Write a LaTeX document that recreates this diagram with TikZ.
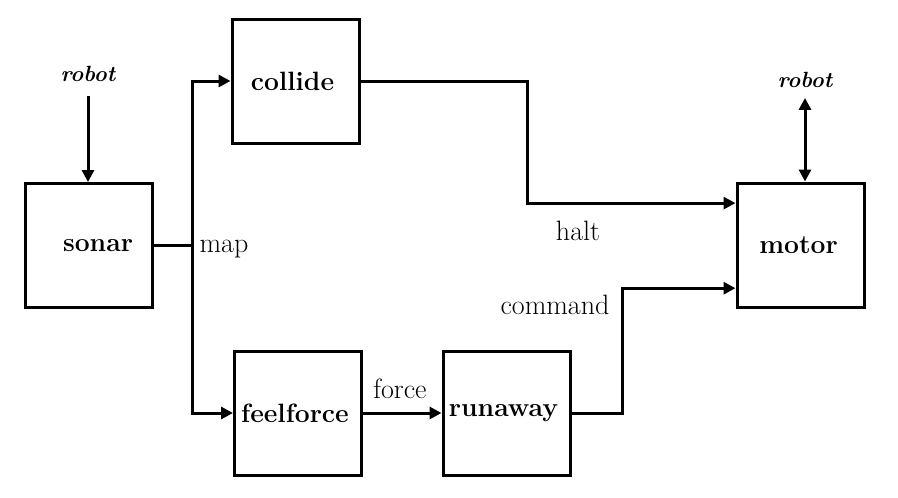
\documentclass[tikz,border=0pt]{standalone}
\usetikzlibrary{arrows.meta,calc}
\begin{document}
\begin{tikzpicture}[x=1pt,y=-1pt,
  box/.style={draw,line width=3pt,minimum width=127pt,minimum height=124pt,inner sep=0pt,
    font=\fontsize{26.5}{30}\selectfont\bfseries},
  lbl/.style={font=\fontsize{28}{32}\selectfont,inner sep=0pt},
  rob/.style={font=\fontsize{22}{26}\selectfont\bfseries\itshape,inner sep=0pt},
  wire/.style={line width=3pt},
  arr/.style={wire,-{Triangle[length=12pt,width=12pt]}},
  darr/.style={wire,{Triangle[length=12pt,width=12pt]}-{Triangle[length=12pt,width=12pt]}}]
\useasboundingbox (0,0) rectangle (898,498);
% boxes
\node[box] (sonar) at (89,245.5) {\hspace*{18pt}sonar};
\node[box] (collide) at (295.5,81) {\hspace*{-6pt}collide};
\node[box] (feelforce) at (298,413) {\hspace*{-6pt}feelforce};
\node[box] (runaway) at (506.5,413) {\hspace*{-6pt}runaway};
\node[box] (motor) at (800.5,245) {\hspace*{-4pt}motor};
% robot labels
\node[rob] (robotL) at (88,74) {robot};
\node[rob] (robotR) at (805,80) {robot};
% edge labels
\node[lbl] (map) at (224,249) {map};
\node[lbl] (halt) at (578,231) {halt};
\node[lbl] (force) at (400,389) {force};
\node[lbl] (command) at (555,305) {command};
% helper coordinates
\coordinate (J) at (192,245.5);
\coordinate (bendA) at (527,0);
\coordinate (bendB) at (622,0);
\coordinate (haltin) at ($(motor.north west)!0.17!(motor.south west)$);
\coordinate (cmdin) at ($(motor.north west)!0.84!(motor.south west)$);
% connectors
\draw[arr,shorten <=14pt] (robotL.south) -- (robotL.south |- sonar.north);
\draw[darr,shorten <=10pt] (robotR.south) -- (robotR.south |- motor.north);
\draw[wire] (sonar.east) -- (J);
\draw[arr] (J) |- (collide.west);
\draw[arr] (J) |- (feelforce.west);
\draw[arr] (collide.east) -- (collide.east -| bendA) |- (haltin);
\draw[arr] (feelforce.east) -- (runaway.west);
\draw[arr] (runaway.east) -- (runaway.east -| bendB) |- (cmdin);
\end{tikzpicture}
\end{document}
